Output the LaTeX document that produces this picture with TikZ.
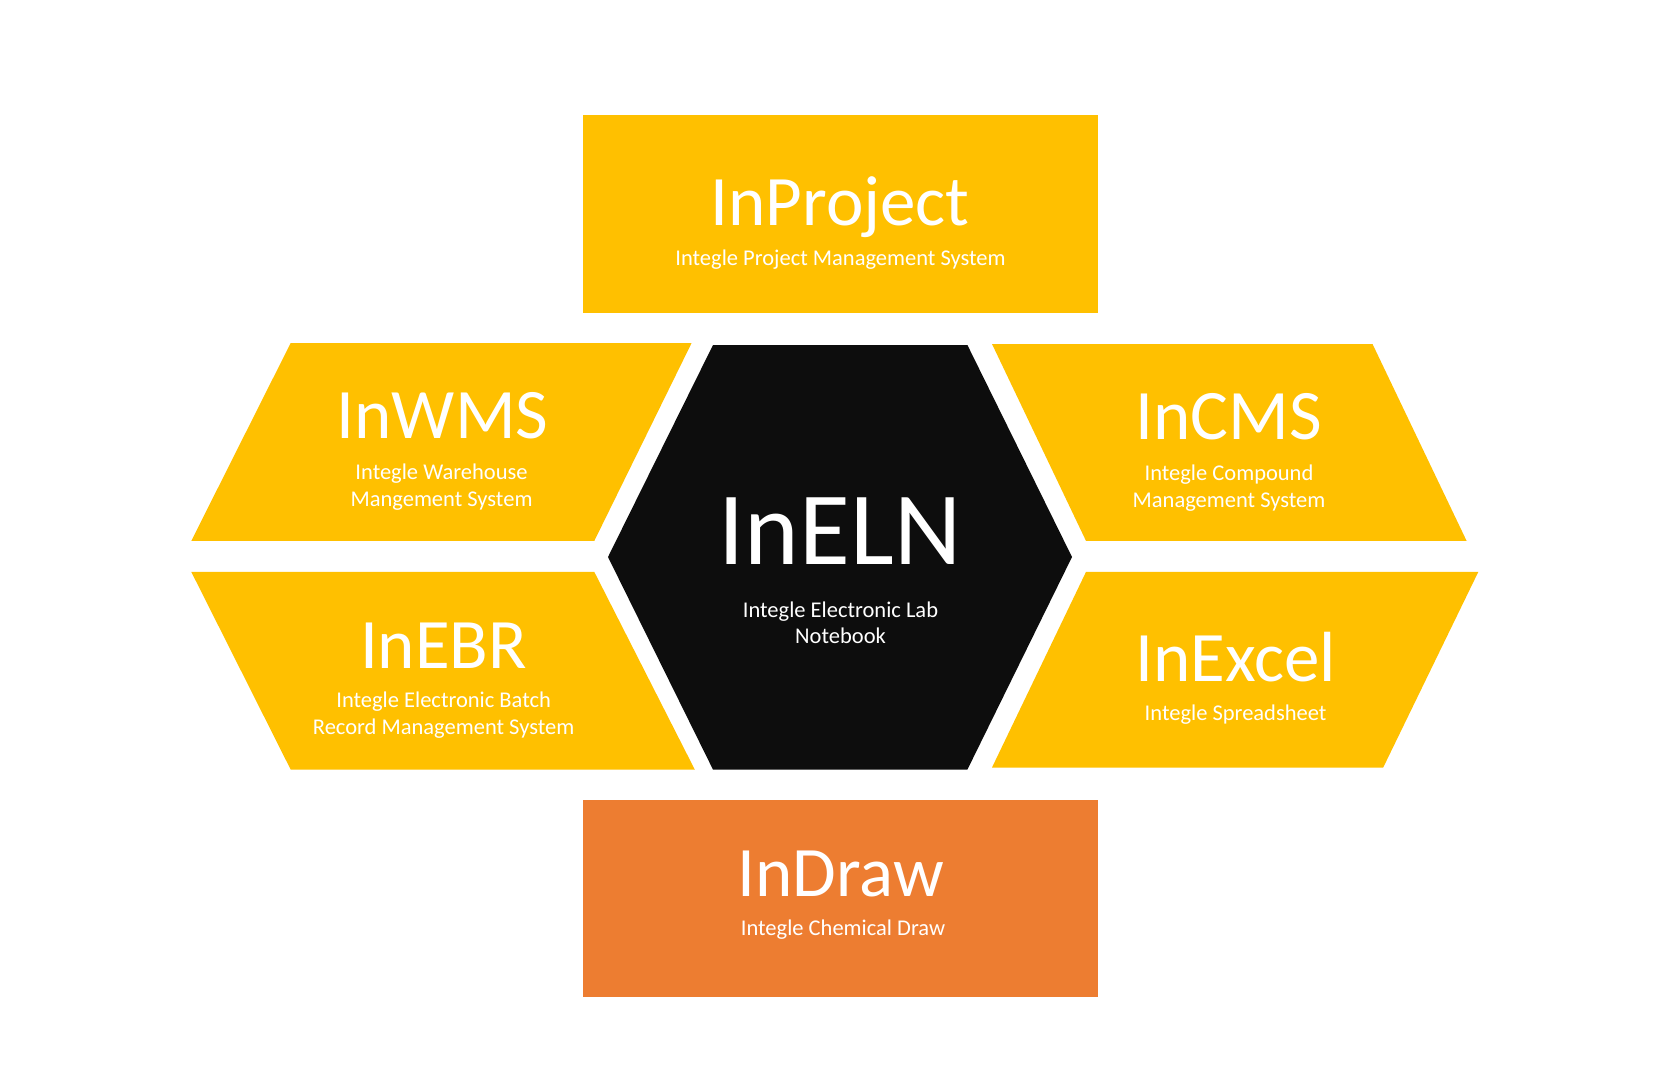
\documentclass[tikz,border=0pt]{standalone}
\usepackage{fontspec}
\setmainfont{Carlito}
\definecolor{gold}{HTML}{FFC000}
\definecolor{orng}{HTML}{ED7D31}
\definecolor{hexblk}{HTML}{0D0D0D}
\tikzset{
  ttl/.style={text=white, anchor=base, inner sep=0pt, font=\fontsize{71}{71}\selectfont},
  bigttl/.style={text=white, anchor=base, inner sep=0pt, font=\fontsize{104}{104}\selectfont},
  sub/.style={text=white, anchor=base, inner sep=0pt, font=\fontsize{22.5}{26}\selectfont},
  goldshape/.style={fill=gold},
}
\begin{document}
\begin{tikzpicture}[x=1pt,y=-1pt]
\useasboundingbox (0,0) rectangle (1676,1089);
\fill[white] (0,0) rectangle (1676,1089);
% top rectangle
\fill[goldshape] (582.5,115.5) rectangle (1097.8,313.2);
\node[ttl] (projT) at (840,225) {InProject};
\node[sub] (projS) at (840.5,265) {Integle Project Management System};
% left upper parallelogram
\fill[goldshape] (290.7,343) -- (691.6,343) -- (594.3,540.9) -- (191.3,540.9) -- cycle;
\node[ttl] (wmsT) at (442.5,438) {InWMS};
\node[sub] (wmsS1) at (441.5,479) {Integle Warehouse};
\node[sub] (wmsS2) at (441.5,506) {Mangement System};
% left lower parallelogram
\fill[goldshape] (191.3,571.9) -- (594.3,571.9) -- (694.8,769.6) -- (290.7,769.6) -- cycle;
\node[ttl] (ebrT) at (443.6,668) {InEBR};
\node[sub] (ebrS1) at (443.6,707.5) {Integle Electronic Batch};
\node[sub] (ebrS2) at (443.6,734) {Record Management System};
% right upper parallelogram
\fill[goldshape] (992,344) -- (1372.5,344) -- (1466.6,540.9) -- (1086,540.9) -- cycle;
\node[ttl] (cmsT) at (1229,439) {InCMS};
\node[sub] (cmsS1) at (1229,480) {Integle Compound};
\node[sub] (cmsS2) at (1229,507) {Management System};
% right lower parallelogram
\fill[goldshape] (1086,571.9) -- (1478.3,571.9) -- (1383.2,767.5) -- (992,767.5) -- cycle;
\node[ttl] (xlsT) at (1235.6,681) {InExcel};
\node[sub] (xlsS) at (1235.6,720) {Integle Spreadsheet};
% hexagon
\fill[hexblk] (713,345) -- (967.4,345) -- (1072,557) -- (967.4,769.6) -- (713,769.6) -- (608,557) -- cycle;
\node[bigttl] (elnT) at (840,564) {InELN};
\node[sub] (elnS1) at (840.5,617) {Integle Electronic Lab};
\node[sub] (elnS2) at (840.5,643) {Notebook};
% bottom rectangle
\fill[orng] (582.5,799.5) rectangle (1097.8,997.3);
\node[ttl] (drawT) at (841,896) {InDraw};
\node[sub] (drawS) at (843,935) {Integle Chemical Draw};
\end{tikzpicture}
\end{document}
